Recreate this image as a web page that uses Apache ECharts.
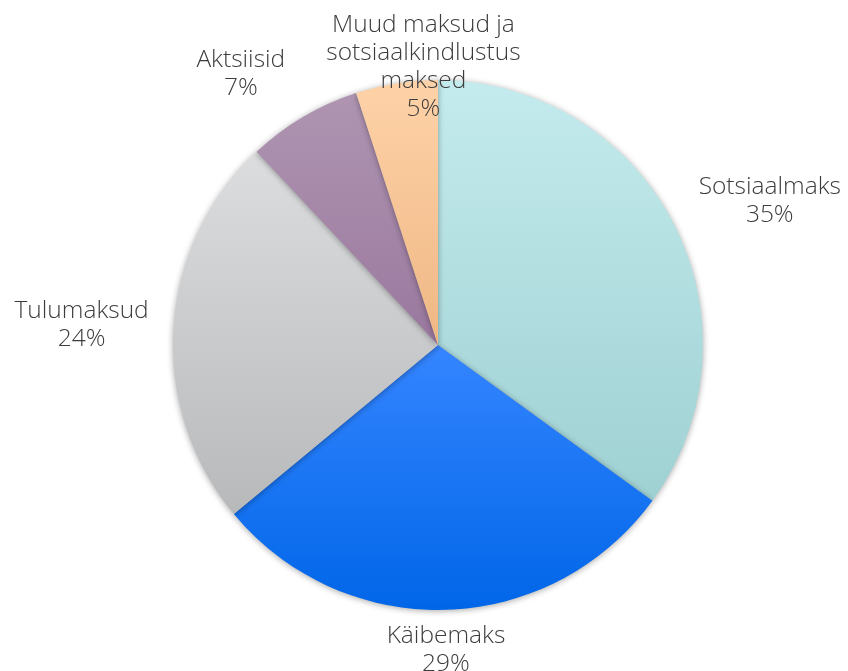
<!DOCTYPE html>
<html>
<head>
<meta charset="utf-8">
<script src="https://cdn.jsdelivr.net/npm/echarts@6/dist/echarts.min.js"></script>
<style>
  html, body { margin: 0; padding: 0; background: #fff; }
  #main { width: 848px; height: 671px; }
</style>
</head>
<body>
<div id="main"></div>
<script>
// data
var categories = ['Sotsiaalmaks', 'Käibemaks', 'Tulumaksud', 'Aktsiisid', 'Muud maksud ja\nsotsiaalkindlustus\nmaksed'];
var shares = [35, 29, 24, 7, 5];

// gradient fills (top -> bottom), one per slice
var topColors = ['#c4ebed', '#3585ff', '#dcdddf', '#af95b2', '#fed2a8'];
var bottomColors = ['#9fd1d3', '#0066e8', '#b8b9bb', '#9a789e', '#efb784'];

var cx = 438, cy = 345, R = 265, gap = 25;
// small hand nudges so the labels sit where the original put them
var labelNudge = [[10, 0], [-3, -13], [0, 0], [-27, 3], [46, 64]];

var total = 0;
for (var t = 0; t < shares.length; t++) total += shares[t];

var myChart = echarts.init(document.getElementById('main'));

var seriesData = [];
for (var i = 0; i < categories.length; i++) {
    seriesData.push({
        name: categories[i],
        value: shares[i],
        itemStyle: {
            color: new echarts.graphic.LinearGradient(0, 0, 0, 1, [
                {offset: 0, color: topColors[i]},
                {offset: 1, color: bottomColors[i]}
            ])
        }
    });
}

var option = {
    animation: false,
    textStyle: {fontFamily: 'Open Sans'},
    series: [
        {
            type: 'pie',
            center: [cx, cy],
            radius: R,
            startAngle: 90,
            clockwise: true,
            avoidLabelOverlap: false,
            data: seriesData,
            itemStyle: {
                borderWidth: 0,
                shadowBlur: 6,
                shadowOffsetY: 1,
                shadowColor: 'rgba(0,0,0,0.35)'
            },
            label: {
                show: true,
                position: 'outside',
                color: '#3c3c3c',
                fontFamily: 'Open Sans',
                fontWeight: 300,
                fontSize: 24.5,
                lineHeight: 28,
                align: 'center',
                formatter: function (p) {
                    return p.name + '\n' + p.value + '%';
                }
            },
            labelLine: {show: false},
            emphasis: {disabled: true},
            labelLayout: function (p) {
                var k = p.dataIndex;
                var before = 0;
                for (var j = 0; j < k; j++) before += shares[j];
                var mid = (before + shares[k] / 2) / total * 2 * Math.PI;
                var dx = Math.sin(mid), dy = -Math.cos(mid);
                var w = p.labelRect.width, h = p.labelRect.height;
                return {
                    x: cx + dx * (R + gap) + dx * w / 2 + labelNudge[k][0],
                    y: cy + dy * (R + gap) + dy * h / 2 + labelNudge[k][1],
                    align: 'center',
                    verticalAlign: 'middle'
                };
            }
        }
    ]
};

myChart.setOption(option);
</script>
</body>
</html>
